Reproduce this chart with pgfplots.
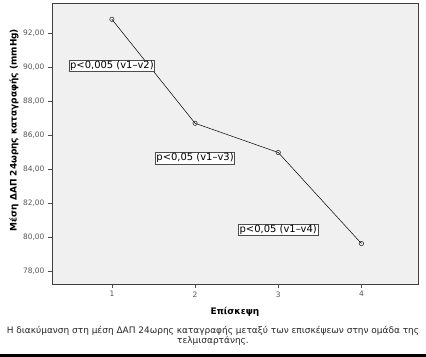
\documentclass[border=0pt]{standalone}
\usepackage{fontspec}
\setmainfont{DejaVu Sans}
\usepackage{pgfplots}
\pgfplotsset{compat=1.18}
\definecolor{plotbg}{HTML}{F0F0F0}
\definecolor{ticklab}{HTML}{555555}
\begin{document}
\begin{tikzpicture}
\path[use as bounding box] (-52bp,-73bp) rectangle (374bp,284bp);
\fill[black] (-52bp,-73bp) rectangle (374bp,-70bp);
\begin{axis}[
  scale only axis,
  width=366bp, height=281bp,
  xmin=0.28, xmax=4.68,
  ymin=77.26, ymax=93.8,
  axis background/.style={fill=plotbg},
  axis line style={draw=black!75, line width=0.8pt},
  xtick={1,2,3,4},
  ytick={78,80,82,84,86,88,90,92},
  tick align=outside,
  tick pos=left,
  major tick length=4bp,
  tick style={black!70, line width=0.5pt},
  /pgf/number format/assume math mode=true,
  yticklabel style={/pgf/number format/.cd, use comma, fixed, fixed zerofill, precision=2},
  ticklabel style={font=\fontsize{7.5}{8}\selectfont, text=ticklab},
  xlabel={\textbf{Επίσκεψη}},
  xlabel style={font=\fontsize{9}{10}\selectfont, at={(axis description cs:0.5,-0.0986)}, anchor=center},
  ylabel={\textbf{Μέση ΔΑΠ 24ωρης καταγραφής (mmHg)}},
  ylabel style={font=\fontsize{9}{10}\selectfont, at={(axis description cs:-0.1038,0.548)}, anchor=center},
  clip=false,
]
\addplot[black, line width=0.5pt, mark=o, mark size=2.2pt, mark options={line width=0.6pt, draw=black!80}]
  coordinates {(1,92.84) (2,86.72) (3,85.0) (4,79.64)};
\node[draw=black!70, fill=white, inner sep=1pt, font=\fontsize{10}{11}\selectfont] at (axis cs:1,90.11) {p<0,005 (v1–v2)};
\node[draw=black!70, fill=white, inner sep=1pt, font=\fontsize{10}{11}\selectfont] at (axis cs:2,84.67) {p<0,05 (v1–v3)};
\node[draw=black!70, fill=white, inner sep=1pt, font=\fontsize{10}{11}\selectfont] at (axis cs:3,80.46) {p<0,05 (v1–v4)};
\end{axis}
\node[align=center, font=\fontsize{9}{9.5}\selectfont, text=black!85] at (161bp,-52bp) {Η διακύμανση στη μέση ΔΑΠ 24ωρης καταγραφής μεταξύ των επισκέψεων στην ομάδα της\\τελμισαρτάνης.};
\end{tikzpicture}
\end{document}
